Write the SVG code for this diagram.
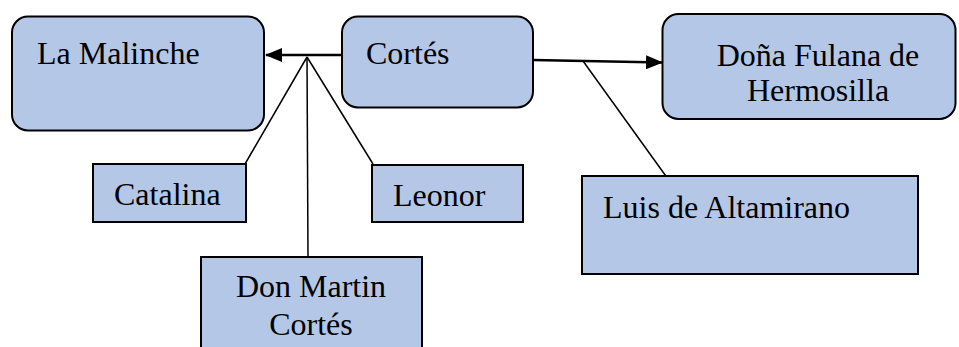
<svg xmlns="http://www.w3.org/2000/svg" width="959" height="347" viewBox="0 0 959 347">
<style>
.box{fill:#b4c7e7;stroke:#000;stroke-width:2}
.t{font-family:"Liberation Serif","Times New Roman","DejaVu Serif",serif;font-size:32px;fill:#000}
.c{text-anchor:middle}
.thick{stroke:#000;stroke-width:2.5;fill:none}
.thin{stroke:#000;stroke-width:1.5;fill:none}
</style>
<defs>
<marker id="arr" markerWidth="17" markerHeight="14" refX="16" refY="7" orient="auto" markerUnits="userSpaceOnUse" viewBox="0 0 17 14">
<path d="M0,0 L17,7 L0,14 Z" fill="#000"/>
</marker>
</defs>
<rect width="959" height="347" fill="#fff"/>
<g id="connectors">
<line class="thick" x1="342" y1="55" x2="266" y2="55" marker-end="url(#arr)"/>
<line class="thick" x1="533" y1="60" x2="662" y2="62.5" marker-end="url(#arr)"/>
<line class="thin" x1="307" y1="57" x2="245" y2="164"/>
<line class="thin" x1="307" y1="57" x2="308" y2="257"/>
<line class="thin" x1="307" y1="57" x2="373" y2="164"/>
<line class="thin" x1="583" y1="61" x2="668" y2="179"/>
</g>
<g id="malinche">
<rect class="box" x="12" y="16.5" width="252" height="114" rx="16"/>
<text class="t" font-family="Liberation Serif, serif" x="37" y="64">La Malinche</text>
</g>
<g id="cortes">
<rect class="box" x="342" y="16.5" width="191" height="91" rx="16"/>
<text class="t" font-family="Liberation Serif, serif" x="366" y="64">Cortés</text>
</g>
<g id="dona">
<rect class="box" x="662.5" y="14" width="293" height="105" rx="16"/>
<text class="t c" font-family="Liberation Serif, serif" x="818" y="66">Doña Fulana de</text>
<text class="t c" font-family="Liberation Serif, serif" x="818" y="101">Hermosilla</text>
</g>
<g id="catalina">
<rect class="box" x="93" y="164" width="153" height="58"/>
<text class="t" font-family="Liberation Serif, serif" x="114" y="205">Catalina</text>
</g>
<g id="leonor">
<rect class="box" x="372" y="165" width="151" height="57"/>
<text class="t" font-family="Liberation Serif, serif" x="393" y="206">Leonor</text>
</g>
<g id="luis">
<rect class="box" x="582" y="176" width="336" height="98"/>
<text class="t" font-family="Liberation Serif, serif" x="603" y="218">Luis de Altamirano</text>
</g>
<g id="martin">
<rect class="box" x="201" y="257" width="221" height="100"/>
<text class="t c" font-family="Liberation Serif, serif" x="311" y="297">Don Martin</text>
<text class="t c" font-family="Liberation Serif, serif" x="311" y="335">Cortés</text>
</g>
</svg>
